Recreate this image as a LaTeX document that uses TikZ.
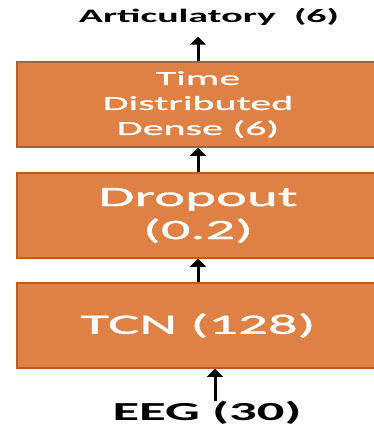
\documentclass[tikz,border=0pt]{standalone}
\usepackage{fontspec}
\setmainfont[FakeStretch=2.1]{Carlito}
\newfontfamily\layerfont[FakeStretch=2.1, FakeBold=1.2]{Carlito}
\usepackage{xcolor}
\usepackage{tikz}
\usetikzlibrary{arrows.meta}
\usetikzlibrary{positioning}
\definecolor{layerfill}{HTML}{DF8144}
\definecolor{layerline}{HTML}{B0602C}
\tikzset{layer/.style={draw=layerline, line width=1.5pt, fill=layerfill, text=white, align=center, inner sep=0, minimum width=362pt, minimum height=85pt}}
\tikzset{flow/.style={draw, line width=3pt, -{Triangle[width=16pt,length=8pt]}}}
\tikzset{label text/.style={font=\bfseries, inner sep=0}}

\begin{document}
\begin{tikzpicture}[x=1pt, y=-1pt]
  \useasboundingbox (0, 0) rectangle (373, 433);

  % layers, bottom to top
  \node[layer, font=\layerfont\fontsize{28}{33}\selectfont] at (198, 325.5) (tcn) {TCN (128)};
  \node[layer, font=\layerfont\fontsize{28}{33}\selectfont] at (198, 215.5) (drop) {Dropout\\(0.2)};
  \node[layer, font=\layerfont\fontsize{20}{25}\selectfont] at (198, 104.5) (dense) {Time\\Distributed\\Dense (6)};

  % input and output
  \node[label text, font=\bfseries\fontsize{26}{30}\selectfont] at (207, 413) (eeg) {EEG (30)};
  \node[label text, font=\bfseries\fontsize{19}{22}\selectfont] at (209, 17) (out) {Articulatory \ (6)};

  \draw[flow] ([xshift=8pt]eeg.north) -- ([xshift=8pt]eeg.north |- tcn.south);
  \draw[flow] (tcn.north) -- (drop.south);
  \draw[flow] (drop.north) -- (dense.south);
  \draw[flow, shorten >=11pt] (dense.north) -- (dense.north |- out.south);
\end{tikzpicture}
\end{document}
